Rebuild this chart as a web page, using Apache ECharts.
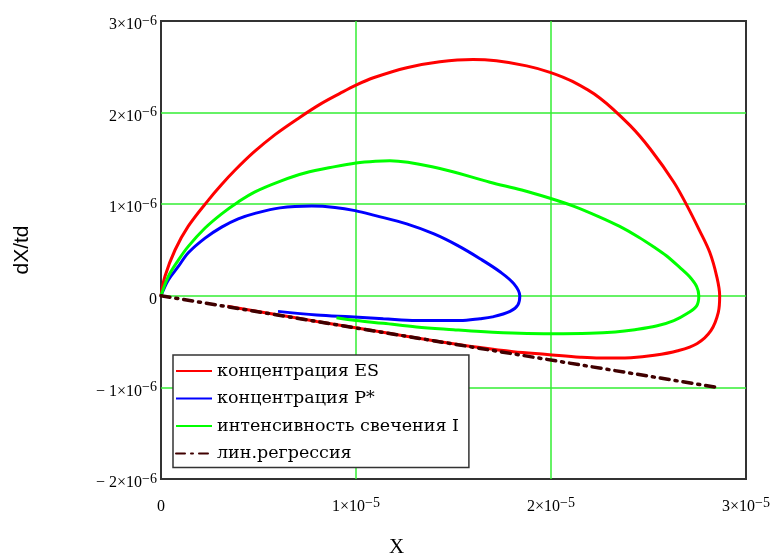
<!DOCTYPE html>
<html style="height: 100%">
<head>
  <meta charset="utf-8">
  <title>dX/td</title>
</head>
<body style="height: 100%; margin: 0; background: #fff">
<div id="container" style="width: 776px; height: 557px"></div>
<script src="https://cdn.jsdelivr.net/npm/echarts@6/dist/echarts.min.js"></script>
<script>
  // values in units of 1e-6 (both axes)
  var names = ['концентрация ES', 'концентрация P*', 'интенсивность свечения I', 'лин.регрессия'];

  var esX = [0, 0.2, 0.72, 1.4, 2.43, 3.11, 3.79, 4.77, 5.85, 7.13, 8.15, 9.18, 10, 10.89, 12.6, 14.3, 16.0, 17.2, 18.75, 19.95, 21.1, 22.5, 24.05, 25.1, 26.3, 26.96, 27.6, 28.15, 28.5, 28.65,
             28.58, 28.2, 27.5, 26.5, 25.3, 24.1, 22.5, 21.5, 19.8, 18.07, 16.36, 14, 11, 8, 5.5, 3.4];
  var esY = [0, 0.21, 0.5, 0.76, 1.045, 1.215, 1.37, 1.57, 1.76, 1.95, 2.09, 2.21, 2.3, 2.38, 2.49, 2.555, 2.58, 2.565, 2.51, 2.44, 2.34, 2.16, 1.86, 1.6, 1.24, 0.99, 0.72, 0.47, 0.21, 0,
             -0.18, -0.38, -0.52, -0.6, -0.65, -0.675, -0.68, -0.67, -0.64, -0.61, -0.565, -0.49, -0.385, -0.28, -0.19, -0.115];

  var pX = [0, 0.37, 0.89, 1.4, 2.26, 3.11, 3.96, 4.82, 6.1, 7.73, 8.92, 9.95, 11.0, 12.6, 14.0, 15.2, 16.36, 17.4, 18.1, 18.4, 18.3, 17.9, 17.0, 16.36, 15.33, 13.1, 11.4, 9.7, 7.98, 6.0];
  var pY = [0, 0.17, 0.32, 0.47, 0.63, 0.75, 0.84, 0.9, 0.96, 0.98, 0.965, 0.93, 0.875, 0.785, 0.675, 0.55, 0.405, 0.26, 0.13, 0, -0.1, -0.17, -0.23, -0.25, -0.27, -0.27, -0.25, -0.23, -0.21, -0.17];

  var iX = [0, 0.37, 0.89, 1.4, 2.26, 3.11, 3.96, 4.82, 6.1, 7.38, 8.92, 10, 11.0, 11.74, 14.3, 16.87, 18.5, 19.95, 21.15, 22.5, 23.5, 24.5, 25.3, 25.9, 26.6, 27.1, 27.47, 27.58,
            27.47, 27.0, 26.3, 25.4, 24.3, 23.3, 22.0, 20.1, 18.4, 16.4, 15.0, 13.1, 11.4, 10.0, 9.0];
  var iY = [0, 0.21, 0.39, 0.54, 0.74, 0.895, 1.025, 1.135, 1.25, 1.34, 1.41, 1.45, 1.47, 1.475, 1.39, 1.24, 1.155, 1.065, 0.98, 0.86, 0.76, 0.64, 0.53, 0.44, 0.31, 0.21, 0.1, 0,
            -0.11, -0.19, -0.27, -0.33, -0.37, -0.395, -0.41, -0.415, -0.41, -0.39, -0.37, -0.34, -0.3, -0.27, -0.24];

  var regX = [0, 28.5];
  var regY = [0, -1.0];

  function pairs(xs, ys) {
    return xs.map(function (x, i) { return [x, ys[i]]; });
  }

  function sci(coef, exp) {
    if (coef === 0) return '{a|0}';
    var c = coef < 0 ? '− ' + (-coef) : '' + coef;
    return '{a|' + c + '×10}{s|−' + exp + '}';
  }

  var labelRich = {
    a: { fontFamily: 'Liberation Serif', fontSize: 16, color: '#000', lineHeight: 22 },
    s: { fontFamily: 'Liberation Serif', fontSize: 14, color: '#000', lineHeight: 12, verticalAlign: 'top' }
  };

  var gridGreen = '#33ee33';

  var myChart = echarts.init(document.getElementById('container'));
  var option = {
    animation: false,
    backgroundColor: '#fff',
    grid: {
      left: 161, top: 21, right: 30, bottom: 78,
      outerBoundsMode: 'none',
      show: true, borderColor: '#333', borderWidth: 2, backgroundColor: 'transparent'
    },
    legend: {
      orient: 'vertical',
      left: 173, top: 355,
      data: names,
      itemWidth: 36, itemHeight: 14, itemGap: 9.5,
      padding: [7, 10, 5, 2],
      backgroundColor: '#fff',
      borderColor: '#333', borderWidth: 1.5,
      itemStyle: { opacity: 0 },
      textStyle: { fontFamily: 'DejaVu Serif', fontSize: 17.5, color: '#000' }
    },
    xAxis: {
      type: 'value', min: 0, max: 30, interval: 10,
      name: 'X', nameLocation: 'middle', nameGap: 58,
      nameTextStyle: { fontFamily: 'Liberation Serif', fontSize: 21, color: '#000', padding: [0, 114, 0, 0] },
      axisLine: { show: false }, axisTick: { show: false },
      axisLabel: { margin: 17, formatter: function (v) { return sci(v / 10, 5); }, rich: labelRich },
      splitLine: { show: true, showMinLine: false, showMaxLine: false, lineStyle: { color: gridGreen, width: 1.5 } }
    },
    yAxis: {
      type: 'value', min: -2, max: 3, interval: 1,
      name: 'dX/td', nameLocation: 'middle', nameGap: 128, nameRotate: 90,
      nameTextStyle: { fontFamily: 'Liberation Sans', fontSize: 21, color: '#000' },
      axisLine: { show: false }, axisTick: { show: false },
      axisLabel: { margin: 4, padding: [8, 0, 0, 0], formatter: function (v) { return sci(v, 6); }, rich: labelRich },
      splitLine: { show: true, showMinLine: false, showMaxLine: false, lineStyle: { color: gridGreen, width: 1.5 } }
    },
    series: [
      { name: names[0], type: 'line', data: pairs(esX, esY), symbol: 'none', smooth: 0.35,
        color: '#ff0000', lineStyle: { color: '#ff0000', width: 3 }, z: 3 },
      { name: names[1], type: 'line', data: pairs(pX, pY), symbol: 'none', smooth: 0.35,
        color: '#0000ff', lineStyle: { color: '#0000ff', width: 3 }, z: 3 },
      { name: names[2], type: 'line', data: pairs(iX, iY), symbol: 'none', smooth: 0.35,
        color: '#00ff00', lineStyle: { color: '#00ff00', width: 3 }, z: 3 },
      { name: names[3], type: 'line', data: pairs(regX, regY), symbol: 'none',
        color: '#400000', lineStyle: { color: '#400000', width: 3.5, type: [9, 6, 2, 6], cap: 'round' }, z: 4 }
    ]
  };
  myChart.setOption(option);
</script>
</body>
</html>
